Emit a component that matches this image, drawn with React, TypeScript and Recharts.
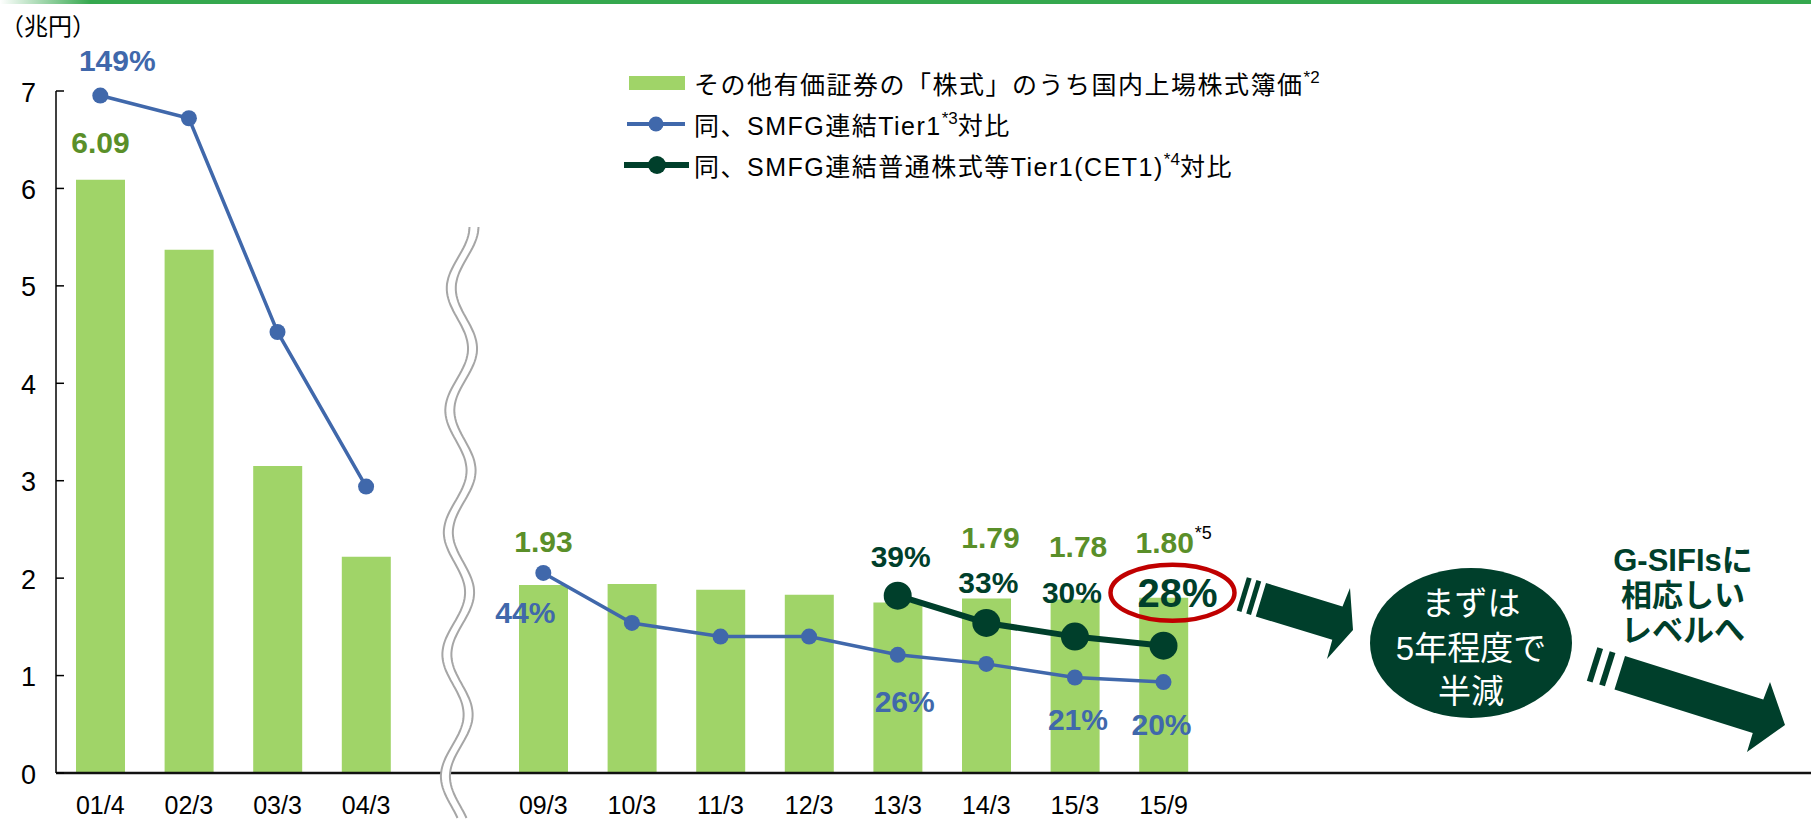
import React from 'react'
import { ComposedChart, Bar, Line, XAxis, YAxis, LabelList, Legend } from 'recharts'

// 年度（01/4〜15/9）、空きスロットは省略記号と矢印のスペース
const categories = [
  '01/4', '02/3', '03/3', '04/3', '',
  '09/3', '10/3', '11/3', '12/3', '13/3', '14/3', '15/3', '15/9',
  '', '', '', '', '', '', '',
]
// 国内上場株式簿価（兆円）
const stockValues = [6.09, 5.37, 3.15, 2.22, null, 1.93, 1.94, 1.88, 1.83, 1.75, 1.79, 1.78, 1.8, null, null, null, null, null, null, null]
// SMFG連結Tier1対比（%）
const tier1Ratio = [149, 144, 97, 63, null, 44, 33, 30, 30, 26, 24, 21, 20, null, null, null, null, null, null, null]
// SMFG連結普通株式等Tier1(CET1)対比（%）
const cet1Ratio = [null, null, null, null, null, null, null, null, null, 39, 33, 30, 28, null, null, null, null, null, null, null]

const stockLabels = ['6.09', null, null, null, null, '1.93', null, null, null, null, '1.79', '1.78', '1.80']
const tier1Labels = ['149%', null, null, null, null, '44%', null, null, null, '26%', null, '21%', '20%']
const cet1Labels = [null, null, null, null, null, null, null, null, null, '39%', '33%', '30%', '28%']
const yTicks = [0, 1, 2, 3, 4, 5, 6, 7]

const data = categories.map((name, i) => ({
  name,
  idx: i,
  stock: stockValues[i],
  tier1: tier1Ratio[i],
  cet1: cet1Ratio[i],
}))

const FONT = '"Liberation Sans", Arial, "Noto Sans CJK JP", sans-serif'
const BAR = '#A0D468'
const BLUE = '#4068AB'
const DARK = '#003F2B'
const OLIVE = '#5A8F29'

// label nudges, per category index
const stockOffset: Record<number, [number, number]> = { 0: [0, -27], 5: [0, -33], 10: [4, -51], 11: [3, -43], 12: [1, -45] }
const tier1Offset: Record<number, [number, number]> = { 0: [17, -25], 5: [-18, 50], 9: [7, 57], 11: [3, 52], 12: [-2, 53] }
const cet1Offset: Record<number, [number, number]> = { 9: [3, -29], 10: [2, -30], 11: [-3, -34], 12: [14, -39] }

const pos = (p: any) => {
  const vb = p.viewBox || {}
  return {
    x: p.x ?? vb.x,
    y: p.y ?? vb.y,
    w: p.width ?? vb.width ?? 0,
  }
}

// LabelList uses dataKey="idx", so value is the category index
const StockLabel = (p: any) => {
  const i = p.value
  const text = stockLabels[i]
  if (!text) return null
  const { x, y, w } = pos(p)
  const [dx, dy] = stockOffset[i]
  const cx = x + w / 2 + dx
  return (
    <g>
      <text x={cx} y={y + dy} textAnchor="middle" fontFamily={FONT} fontWeight="bold" fontSize={30} fill={OLIVE}>
        {text}
      </text>
      {i === 12 && (
        <text x={cx + 30} y={y + dy - 14} fontFamily={FONT} fontSize={18} fill="#000">*5</text>
      )}
    </g>
  )
}

const Tier1Label = (p: any) => {
  const i = p.value
  const text = tier1Labels[i]
  if (!text) return null
  const { x, y } = pos(p)
  const [dx, dy] = tier1Offset[i]
  return (
    <text x={x + dx} y={y + dy} textAnchor="middle" fontFamily={FONT} fontWeight="bold" fontSize={30} fill={BLUE}>
      {text}
    </text>
  )
}

const Cet1Label = (p: any) => {
  const i = p.value
  const text = cet1Labels[i]
  if (!text) return null
  const { x, y } = pos(p)
  const [dx, dy] = cet1Offset[i]
  const last = i === 12
  return (
    <g>
      {last && (
        <ellipse cx={x + 9} cy={y - 53} rx={62} ry={28} fill="none" stroke="#C00000" strokeWidth={4.5} />
      )}
      <text x={x + dx} y={y + dy} textAnchor="middle" fontFamily={FONT} fontWeight="bold" fontSize={last ? 40 : 30} fill={DARK}>
        {text}
      </text>
    </g>
  )
}

const YTick = (p: any) => (
  <g>
    <line x1={p.x + 20} x2={p.x + 28} y1={p.y} y2={p.y} stroke="#000" strokeWidth={1.5} />
    <text x={p.x} y={p.y} dy={10.5} textAnchor="end" fontFamily={FONT} fontSize={27} fill="#000">
      {p.payload.value}
    </text>
  </g>
)

const sup = { fontSize: 17, position: 'relative' as const, top: -11, letterSpacing: 0 }

const renderLegend = () => (
  <div style={{ fontFamily: FONT, fontSize: 25, color: '#000', letterSpacing: 1.5, whiteSpace: 'nowrap' }}>
    <div style={{ height: 41, display: 'flex', alignItems: 'center' }}>
      <svg width={74} height={41}><rect x={9} y={14} width={56} height={14} fill={BAR} /></svg>
      <span>その他有価証券の「株式」のうち国内上場株式簿価<span style={sup}>*2</span></span>
    </div>
    <div style={{ height: 41, display: 'flex', alignItems: 'center' }}>
      <svg width={74} height={41}>
        <line x1={7} x2={65} y1={21} y2={21} stroke={BLUE} strokeWidth={4} />
        <circle cx={36} cy={21} r={7.5} fill={BLUE} />
      </svg>
      <span>同、SMFG連結Tier1<span style={sup}>*3</span>対比</span>
    </div>
    <div style={{ height: 41, display: 'flex', alignItems: 'center' }}>
      <svg width={74} height={41}>
        <line x1={4} x2={69} y1={21} y2={21} stroke={DARK} strokeWidth={6} />
        <circle cx={37} cy={21} r={9} fill={DARK} />
      </svg>
      <span>同、SMFG連結普通株式等Tier1(CET1)<span style={sup}>*4</span>対比</span>
    </div>
  </div>
)

// 省略記号（波線）
const wavePath = (off: number) => {
  const pts: string[] = []
  for (let y = 227; y <= 818; y += 3) {
    const x = 463 - (y - 227) * 0.012 + 11 * Math.cos((2 * Math.PI * (y - 227)) / 122) + off
    pts.push(`${x.toFixed(1)},${y}`)
  }
  return 'M' + pts.join(' L')
}

// 縞付き矢印
const arrow = (ax: number, ay: number, deg: number, len: number, head: number[][], stripes: number[][]) => {
  const r = (deg * Math.PI) / 180
  const u = [Math.cos(r), Math.sin(r)]
  const v = [-Math.sin(r), Math.cos(r)]
  const t = 35
  const P = (s: number, q: number) => `${ax + u[0] * s + v[0] * q},${ay + u[1] * s + v[1] * q}`
  const body = [P(0, 0), P(len, 0), ...head.map(h => `${h[0]},${h[1]}`), P(len, t), P(0, t)].join(' ')
  return (
    <g fill={DARK}>
      <polygon points={body} />
      {stripes.map(([a, b], i) => (
        <polygon key={i} points={[P(-a, 0), P(-b, 0), P(-b, t), P(-a, t)].join(' ')} />
      ))}
    </g>
  )
}

export default function App() {
  return (
    <div style={{ position: 'absolute', left: 0, top: 0, width: 1811, height: 824, overflow: 'hidden', background: '#fff' }}>
      <ComposedChart
        width={1828}
        height={824}
        data={data}
        margin={{ top: 91, right: 0, bottom: 0, left: 0 }}
        barSize={49}
      >
        <XAxis
          dataKey="name"
          interval={0}
          tickLine={false}
          tickMargin={17}
          height={51}
          axisLine={{ stroke: '#111', strokeWidth: 2.5 }}
          tick={{ fontFamily: FONT, fontSize: 25, fill: '#000' }}
        />
        <YAxis
          yAxisId="left"
          domain={[0, 7]}
          ticks={yTicks}
          width={56}
          tickSize={0}
          tickMargin={20}
          tickLine={false}
          axisLine={{ stroke: '#000', strokeWidth: 1.5 }}
          tick={<YTick />}
        />
        <YAxis yAxisId="pct" orientation="right" hide domain={[0, 150]} />
        <Legend
          layout="vertical"
          align="center"
          verticalAlign="middle"
          content={renderLegend}
          wrapperStyle={{ top: 62, left: 620, width: 800 }}
        />
        <Bar yAxisId="left" dataKey="stock" fill={BAR} isAnimationActive={false}>
          <LabelList dataKey="idx" content={<StockLabel />} />
        </Bar>
        <Line
          yAxisId="pct"
          dataKey="tier1"
          stroke={BLUE}
          strokeWidth={3.5}
          dot={{ r: 8, fill: BLUE, stroke: BLUE, strokeWidth: 0 }}
          isAnimationActive={false}
        >
          <LabelList dataKey="idx" content={<Tier1Label />} />
        </Line>
        <Line
          yAxisId="pct"
          dataKey="cet1"
          stroke={DARK}
          strokeWidth={6}
          dot={{ r: 14, fill: DARK, stroke: DARK, strokeWidth: 0 }}
          isAnimationActive={false}
        >
          <LabelList dataKey="idx" content={<Cet1Label />} />
        </Line>
      </ComposedChart>

      <svg width={1811} height={824} style={{ position: 'absolute', left: 0, top: 0, pointerEvents: 'none' }}>
        <defs>
          <linearGradient id="topbar" x1="0" x2="1" y1="0" y2="0">
            <stop offset="0" stopColor="#fff" />
            <stop offset="0.05" stopColor="#35A84E" />
            <stop offset="1" stopColor="#35A84E" />
          </linearGradient>
        </defs>
        <rect x={0} y={0} width={1811} height={4} fill="url(#topbar)" />
        <text x={0} y={35} fontFamily={FONT} fontSize={24} fill="#000">（兆円）</text>

        <path d={wavePath(0)} fill="none" stroke="#fff" strokeWidth={9} />
        <path d={wavePath(-4.5)} fill="none" stroke="#A6A6A6" strokeWidth={2} />
        <path d={wavePath(4.5)} fill="none" stroke="#A6A6A6" strokeWidth={2} />

        {arrow(1266, 583, 17, 80, [[1350, 588], [1353, 630], [1327, 659]], [[5, 10], [15, 20]])}
        {arrow(1625, 656, 17.5, 145, [[1770, 682], [1785, 725], [1747, 752]], [[10, 16], [23, 29]])}

        <ellipse cx={1471} cy={643} rx={101} ry={75} fill={DARK} />
        <g fontFamily={FONT} fontSize={33} fill="#fff" textAnchor="middle">
          <text x={1471} y={615}>まずは</text>
          <text x={1471} y={660}>5年程度で</text>
          <text x={1471} y={703}>半減</text>
        </g>
        <g fontFamily={FONT} fontSize={31} fontWeight="bold" fill={DARK} textAnchor="middle">
          <text x={1683} y={571}>G-SIFIsに</text>
          <text x={1683} y={606}>相応しい</text>
          <text x={1683} y={641}>レベルへ</text>
        </g>
      </svg>
    </div>
  )
}
